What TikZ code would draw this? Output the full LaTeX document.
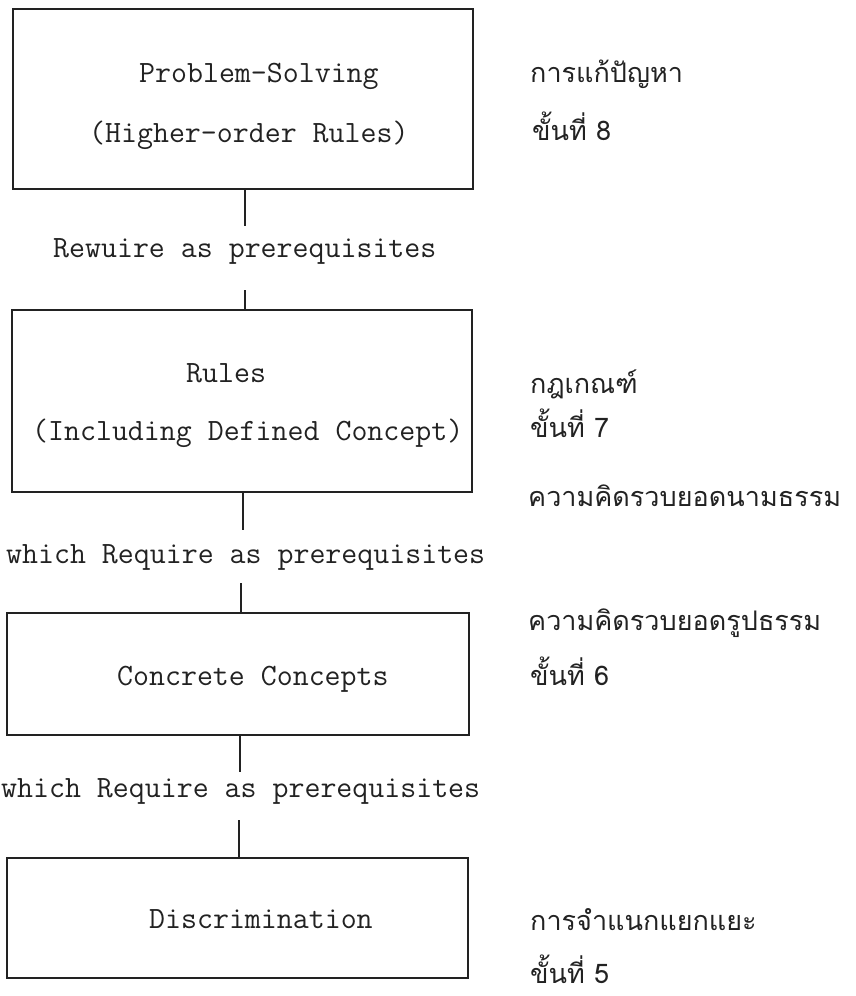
\documentclass[tikz,border=0pt]{standalone}
\usepackage{fontspec}
\newfontfamily\thaifont[Script=Thai]{Loma}
\definecolor{ink}{HTML}{222222}
\begin{document}
\begin{tikzpicture}[x=1pt,y=-1pt,
  box/.style={draw=ink,line width=1.3pt,inner sep=0pt},
  en/.style={anchor=base west,inner sep=0pt,text=ink,font=\ttfamily\fontsize{31}{36}\selectfont},
  th/.style={anchor=base west,inner sep=0pt,text=ink,font=\thaifont\fontsize{27}{32}\selectfont},
  link/.style={draw=ink,line width=1.3pt}]
\useasboundingbox (0,0) rectangle (856,996);
% boxes
\node[box,minimum width=460pt,minimum height=180pt] (b1) at (243,99) {};
\node[box,minimum width=460pt,minimum height=182pt] (b2) at (242,401) {};
\node[box,minimum width=462pt,minimum height=122pt] (b3) at (238,674) {};
\node[box,minimum width=461pt,minimum height=120pt] (b4) at (237.5,918) {};
% box texts
\node[en] (t1a) at (139,82) {Problem-Solving};
\node[en] (t1b) at (89,142) {(Higher-order Rules)};
\node[en] (t2a) at (186,382) {Rules};
\node[en] (t2b) at (32,440) {(Including Defined Concept)};
\node[en] (t3) at (117,685) {Concrete Concepts};
\node[en] (t4) at (149,928) {Discrimination};
% labels between
\node[en] (l1) at (53,257) {Rewuire as prerequisites};
\node[en] (l2) at (6,563) {which Require as prerequisites};
\node[en] (l3) at (1,797) {which Require as prerequisites};
% connector ends
\coordinate (c1a) at (245,226);
\coordinate (c2a) at (245,290);
\coordinate (c3a) at (243,530);
\coordinate (c4a) at (241,583);
\coordinate (c5a) at (240,772);
\coordinate (c6a) at (239,820);
\draw[link] (b1.south -| c1a) -- (c1a);
\draw[link] (c2a) -- (b2.north -| c2a);
\draw[link] (b2.south -| c3a) -- (c3a);
\draw[link] (c4a) -- (b3.north -| c4a);
\draw[link] (b3.south -| c5a) -- (c5a);
\draw[link] (c6a) -- (b4.north -| c6a);
% Thai labels
\node[th] (r1a) at (530,82) {การแก้ปัญหา};
\node[th] (r1b) at (532,140) {ขั้นที่ 8};
\node[th] (r2a) at (530,393) {กฎเกณฑ์};
\node[th] (r2b) at (530,437) {ขั้นที่ 7};
\node[th] (r2c) at (528,506) {ความคิดรวบยอดนามธรรม};
\node[th] (r3a) at (528,630) {ความคิดรวบยอดรูปธรรม};
\node[th] (r3b) at (530,685) {ขั้นที่ 6};
\node[th] (r4a) at (530,930) {การจำแนกแยกแยะ};
\node[th] (r4b) at (530,983) {ขั้นที่ 5};
\end{tikzpicture}
\end{document}
